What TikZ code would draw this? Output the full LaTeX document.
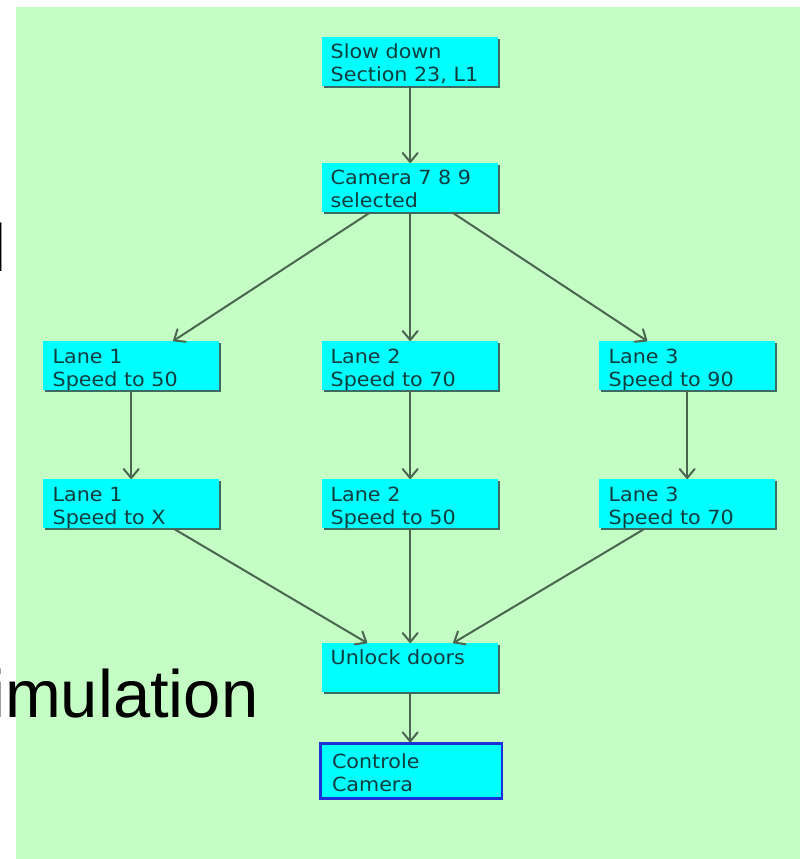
\documentclass[tikz,border=0pt]{standalone}
\usepackage{fontspec}
\usetikzlibrary{arrows.meta,shadows}

\newfontfamily\slidefont{Liberation Sans}
\newfontfamily\boxfont[FakeStretch=1.06]{DejaVu Sans}

\definecolor{slidebg}{HTML}{C4FEC4}
\definecolor{boxfill}{HTML}{00FFFF}
\definecolor{boxedge}{HTML}{3B6B62}
\definecolor{boxtext}{HTML}{0D3D3D}
\definecolor{wire}{HTML}{4A6650}
\definecolor{focusedge}{HTML}{1A30D8}

\tikzset{
  stepbox/.style={anchor=north west, rectangle, inner sep=0pt,
    minimum width=176pt, minimum height=49pt, fill=boxfill,
    drop shadow={shadow xshift=2pt, shadow yshift=-2pt, fill=boxedge, opacity=1}},
  focusbox/.style={anchor=north west, rectangle, inner sep=0pt,
    minimum width=181.3pt, minimum height=54.5pt, fill=boxfill,
    draw=focusedge, line width=2.7pt},
  boxlabel/.style={anchor=north west, inner sep=0pt, align=left, text=boxtext,
    font=\boxfont\fontsize{19.5}{23.5}\selectfont},
  flow/.style={draw=wire, line width=2pt,
    -{Straight Barb[length=9pt, width=15pt, line width=2pt, round]}},
  slidetext/.style={anchor=base west, inner sep=0pt, text=black,
    font=\slidefont\fontsize{67}{80}\selectfont},
}

\begin{document}
\begin{tikzpicture}[x=1pt, y=-1pt]
  \useasboundingbox (0,0) rectangle (800,859);
  \clip (0,0) rectangle (800,859);
  \fill[white] (0,0) rectangle (800,859);

  % green panel of the flow chart
  \fill[slidebg] (16,7) rectangle (800,859);

  % boxes
  \node[stepbox] (A)  at (322,37)  {};
  \node[stepbox] (B)  at (322,163) {};
  \node[stepbox] (C1) at (43,341)  {};
  \node[stepbox] (C2) at (322,341) {};
  \node[stepbox] (C3) at (599,341) {};
  \node[stepbox] (D1) at (43,479)  {};
  \node[stepbox] (D2) at (322,479) {};
  \node[stepbox] (D3) at (599,479) {};
  \node[stepbox] (E)  at (322,643) {};
  \node[focusbox] (F) at (319.35,742.35) {};

  % box captions
  \node[boxlabel] (At)  at ([shift={(8.5,4.5)}]A.north west)  {\strut Slow down\\\strut Section 23, L1};
  \node[boxlabel] (Bt)  at ([shift={(8.5,4.5)}]B.north west)  {\strut Camera 7 8 9\\\strut selected};
  \node[boxlabel] (C1t) at ([shift={(9.5,5.5)}]C1.north west) {\strut Lane 1\\\strut Speed to 50};
  \node[boxlabel] (C2t) at ([shift={(8.5,5.5)}]C2.north west) {\strut Lane 2\\\strut Speed to 70};
  \node[boxlabel] (C3t) at ([shift={(9.5,5.5)}]C3.north west) {\strut Lane 3\\\strut Speed to 90};
  \node[boxlabel] (D1t) at ([shift={(9.5,5.5)}]D1.north west) {\strut Lane 1\\\strut Speed to X};
  \node[boxlabel] (D2t) at ([shift={(8.5,5.5)}]D2.north west) {\strut Lane 2\\\strut Speed to 50};
  \node[boxlabel] (D3t) at ([shift={(9.5,5.5)}]D3.north west) {\strut Lane 3\\\strut Speed to 70};
  \node[boxlabel] (Et)  at ([shift={(8.5,4.5)}]E.north west)  {\strut Unlock doors};
  \node[boxlabel] (Ft)  at ([shift={(12.5,9.2)}]F.north west) {\strut Controle\\\strut Camera};

  % connectors
  \draw[flow] (A.south) -- (B.north);
  \draw[flow] ([xshift=-40pt]B.south) -- ([xshift=42pt]C1.north);
  \draw[flow] (B.south) -- (C2.north);
  \draw[flow] ([xshift=42pt]B.south) -- ([xshift=-40pt]C3.north);
  \draw[flow] (C1.south) -- (D1.north);
  \draw[flow] (C2.south) -- (D2.north);
  \draw[flow] (C3.south) -- (D3.north);
  \draw[flow] ([xshift=42pt]D1.south) -- ([xshift=-43pt]E.north);
  \draw[flow] (D2.south) -- (E.north);
  \draw[flow] ([xshift=-42pt]D3.south) -- ([xshift=43pt]E.north);
  \draw[flow] (E.south) -- (E.south |- F.north);

  % slide text around the panel
  \node[slidetext] (w1) at (-8.5,271) {l};
  \node[slidetext] (w2) at (-10,717) {imulation};
\end{tikzpicture}
\end{document}
